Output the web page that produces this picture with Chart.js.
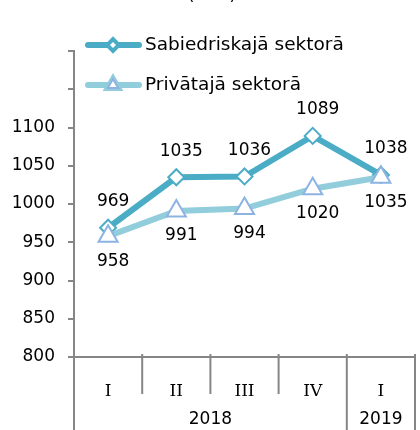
<!DOCTYPE html>
<html>
<head>
<meta charset="utf-8">
<script src="https://cdn.jsdelivr.net/npm/chart.js@4"></script>
<style>
html, body { margin: 0; padding: 0; background: #fff; }
canvas { display: block; }
</style>
</head>
<body>
<canvas id="c" width="420" height="430"></canvas>
<script>
// data
var quarters = ['I', 'II', 'III', 'IV', 'I'];
var years = ['2018', '2018', '2018', '2018', '2019'];
var publicSector = [969, 1035, 1036, 1089, 1038];
var privateSector = [958, 991, 994, 1020, 1035];
var seriesNames = ['Sabiedriskajā sektorā', 'Privātajā sektorā'];
var hiddenTicks = [1150, 1200];
var unitTitle = '(EUR)';

var axisGrey = '#868686';
var font = '"DejaVu Sans", Verdana, sans-serif';

var extras = {
    id: 'extras',
    afterDraw: function(chart) {
        var ctx = chart.ctx;
        var x = chart.scales.x;
        var a = chart.chartArea;
        var half = (x.getPixelForValue(1) - x.getPixelForValue(0)) / 2;
        ctx.save();

        // title, mostly above the picture
        ctx.font = '17px ' + font;
        ctx.fillStyle = '#000';
        ctx.textAlign = 'center';
        ctx.textBaseline = 'alphabetic';
        ctx.fillText(unitTitle, 212, 0);

        // category separators
        ctx.strokeStyle = axisGrey;
        ctx.lineWidth = 2;
        for (var i = 0; i <= quarters.length; i++) {
            var px = i < quarters.length ? x.getPixelForValue(i) - half : x.getPixelForValue(i - 1) + half;
            var isLong = i == 0 || i == quarters.length || years[i] !== years[i - 1];
            ctx.beginPath();
            ctx.moveTo(px, a.bottom - 3);
            ctx.lineTo(px, isLong ? chart.height : a.bottom + 37);
            ctx.stroke();
        }

        // year row
        ctx.font = '17px ' + font;
        ctx.textBaseline = 'middle';
        var start = 0;
        for (var j = 1; j <= years.length; j++) {
            if (j == years.length || years[j] !== years[start]) {
                var cx = (x.getPixelForValue(start) + x.getPixelForValue(j - 1)) / 2;
                ctx.fillText(years[start], cx, a.bottom + 63);
                start = j;
            }
        }

        // value labels
        chart.data.datasets.forEach(function(ds, di) {
            var meta = chart.getDatasetMeta(di);
            meta.data.forEach(function(pt, k) {
                var dy = di == 0 ? -26 : 25;
                ctx.fillText(ds.data[k], pt.x + 5, pt.y + dy);
            });
        });

        // legend
        var legendY = [45, 85];
        [0, 1].forEach(function(di) {
            var ds = chart.data.datasets[di];
            var ly = legendY[di];
            ctx.strokeStyle = ds.borderColor;
            ctx.lineWidth = ds.borderWidth;
            ctx.lineCap = 'round';
            ctx.beginPath();
            ctx.moveTo(88, ly);
            ctx.lineTo(139, ly);
            ctx.stroke();
            Chart.helpers.drawPoint(ctx, {
                pointStyle: ds.pointStyle,
                radius: ds.pointRadius * 0.55,
                borderWidth: ds.pointBorderWidth,
                rotation: 0
            }, 113, ly);
            ctx.fillStyle = ds.pointBackgroundColor;
            ctx.strokeStyle = ds.pointBorderColor;
            ctx.lineWidth = ds.pointBorderWidth;
            ctx.fill();
            ctx.stroke();
            ctx.fillStyle = '#000';
            ctx.textAlign = 'left';
            ctx.font = '18.5px ' + font;
            ctx.fillText(ds.label, 145, ly);
        });

        ctx.restore();
    }
};

var ctx = document.getElementById('c').getContext('2d');
var myChart = new Chart(ctx, {
    type: 'line',
    data: {
        labels: quarters,
        datasets: [{
            label: seriesNames[0],
            data: publicSector,
            borderColor: '#4BACC6',
            borderWidth: 6,
            pointStyle: 'rectRot',
            pointRadius: 8,
            pointBackgroundColor: '#fff',
            pointBorderColor: '#4BACC6',
            pointBorderWidth: 2,
            order: 1
        }, {
            label: seriesNames[1],
            data: privateSector,
            borderColor: '#92CDDC',
            borderWidth: 6,
            pointStyle: 'triangle',
            pointRadius: 11,
            pointBackgroundColor: '#fff',
            pointBorderColor: '#8DB3E2',
            pointBorderWidth: 2,
            order: 0
        }]
    },
    options: {
        responsive: false,
        animation: false,
        layout: { autoPadding: false, padding: { top: 51, right: 5, left: 0, bottom: 0 } },
        plugins: {
            legend: { display: false },
            tooltip: { enabled: false }
        },
        scales: {
            x: {
                offset: true,
                grid: { display: false, offset: true },
                border: { display: true, color: axisGrey, width: 2 },
                ticks: { font: { family: 'DejaVu Serif', size: 17 }, color: '#000', padding: 16, maxRotation: 0 },
                afterFit: function(s) { s.height = 73; }
            },
            y: {
                min: 800,
                max: 1200,
                grid: { drawOnChartArea: false, color: axisGrey, lineWidth: 2, tickLength: 6 },
                border: { display: true, color: axisGrey, width: 2 },
                ticks: {
                    stepSize: 50,
                    padding: 13,
                    color: '#000',
                    font: { family: 'DejaVu Sans', size: 17 },
                    callback: function(v) { return hiddenTicks.indexOf(v) >= 0 ? '' : v; }
                },
                afterFit: function(s) { s.width = 74; }
            }
        }
    },
    plugins: [extras]
});
</script>
</body>
</html>
